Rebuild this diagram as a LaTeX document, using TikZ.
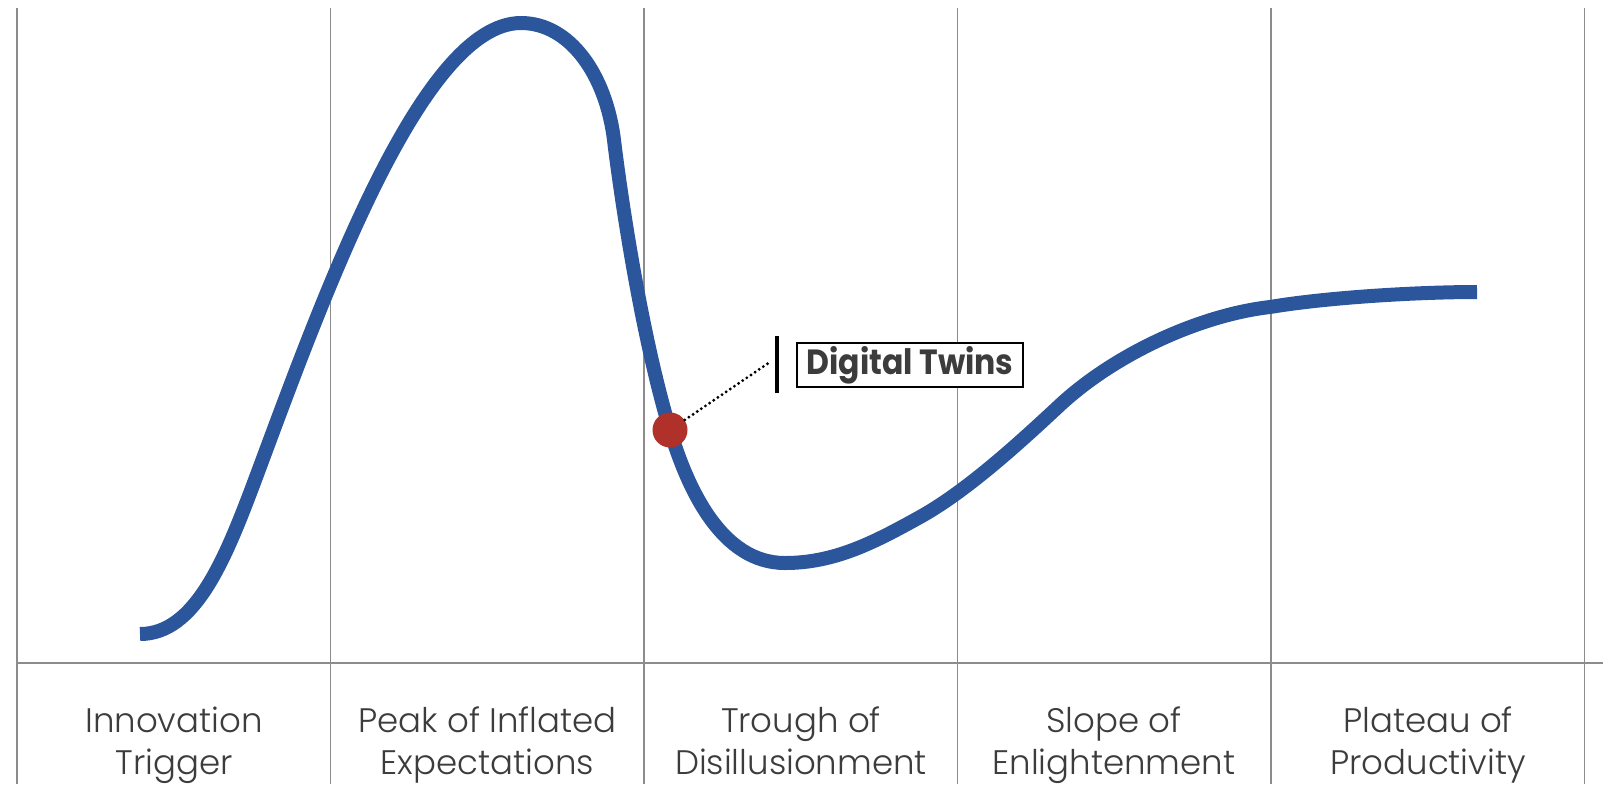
\documentclass[tikz,border=0pt]{standalone}
\usepackage{fontspec}
\setmainfont{Poppins}
\newfontfamily\phasefont{Poppins Light}
\newfontfamily\tagfont[FakeStretch=0.9]{Poppins Bold}
\definecolor{curveblue}{HTML}{2B569C}
\definecolor{dotred}{HTML}{B0302A}
\definecolor{gridgray}{HTML}{8C8C8C}
\definecolor{textgray}{HTML}{3C3C3C}
\begin{document}
\begin{tikzpicture}[x=0.5pt,y=-0.5pt,
  gridline/.style={draw=gridgray,line width=0.9pt},
  phase/.style={text=textgray,font=\phasefont\fontsize{17}{21}\selectfont,align=center,inner sep=0pt},
  hype/.style={draw=curveblue,line width=7pt,line cap=butt},
  marker/.style={circle,fill=dotred,minimum size=17.5pt,inner sep=0pt},
  leader/.style={draw=black,line width=1.6pt,dash pattern=on 0pt off 2.5pt,line cap=round},
  tick/.style={draw=black,line width=2pt},
  tag/.style={draw=black,line width=1pt,fill=white,text=textgray,font=\tagfont\fontsize{17.5}{20}\selectfont,minimum width=113pt,minimum height=22pt,inner sep=0pt}]
\useasboundingbox (0,0) rectangle (1603,784);
% grid
\foreach \i/\x in {0/17,1/330.5,2/644,3/957.5,4/1271,5/1584.5}{
  \coordinate (t\i) at (\x,8);
  \coordinate (b\i) at (\x,784);
  \draw[gridline] (t\i) -- (b\i);
}
\coordinate (hl) at (17,663);
\coordinate (hr) at (1603,663);
\draw[gridline] (hl) -- (hr);
% phase labels
\node[phase] (p1) at (174,744.6) {\strut Innovation\\\strut Trigger};
\node[phase] (p2) at (487.5,744.6) {\strut Peak of Inflated\\\strut Expectations};
\node[phase] (p3) at (801,744.6) {\strut Trough of\\\strut Disillusionment};
\node[phase] (p4) at (1114,744.6) {\strut Slope of\\\strut Enlightenment};
\node[phase] (p5) at (1428,744.6) {\strut Plateau of\\\strut Productivity};
% hype curve
\draw[hype] (140,634) .. controls (195,634) and (225,560) .. (255,480)
  .. controls (320,306) and (420,23) .. (521,23)
  .. controls (570,23) and (606,75) .. (614,140)
  .. controls (620,190) and (640,330) .. (670,430)
  .. controls (688,490) and (722,563) .. (785,563)
  .. controls (835,563) and (875,542) .. (920,517)
  .. controls (965,492) and (1015,447) .. (1060,405)
  .. controls (1115,354) and (1200,315) .. (1270,307)
  .. controls (1330,297) and (1420,292) .. (1477,292);
% marker and label
\node[marker] (dot) at (670,430) {};
\coordinate (lead) at (770,362);
\draw[leader] (dot) -- (lead);
\coordinate (bartop) at (777,336);
\coordinate (barbot) at (777,393);
\draw[tick] (bartop) -- (barbot);
\node[tag] (dt) at (910,365) {Digital Twins};
\end{tikzpicture}
\end{document}
